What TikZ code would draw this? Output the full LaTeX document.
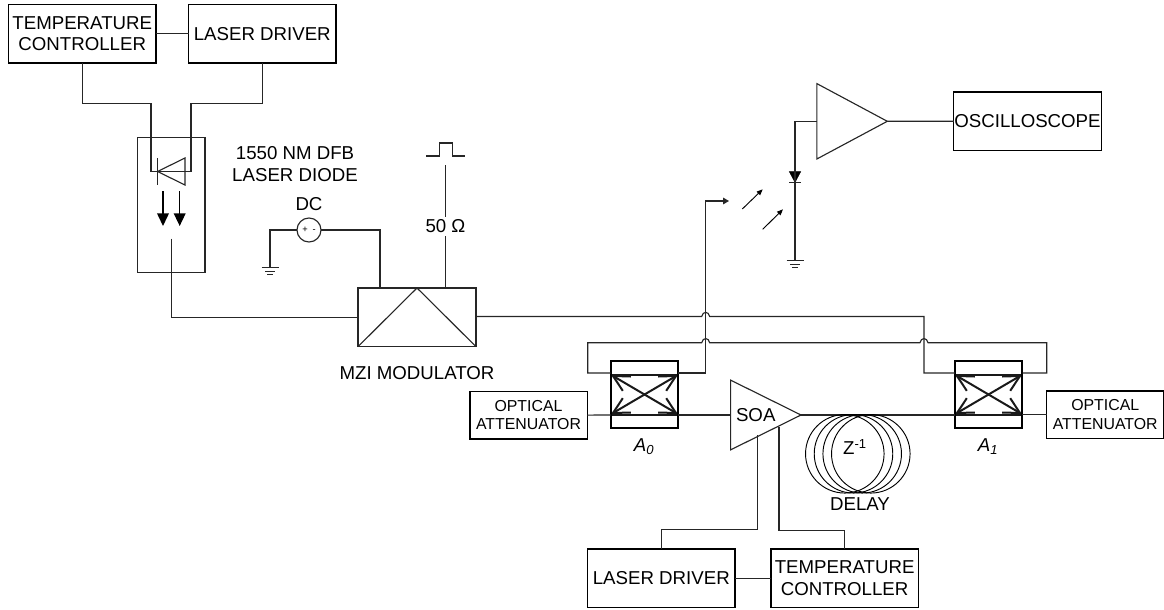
\documentclass[tikz,border=0pt]{standalone}
\usepackage{fontspec}
\setmainfont{Liberation Sans}
\usetikzlibrary{arrows.meta,positioning,shapes.geometric}

\begin{document}
\newcommand{\hop}[2]{-- ({#1-4},#2) .. controls ({#1-3},{#2-5.5}) and ({#1+3},{#2-5.5}) .. ({#1+4},#2)}
\begin{tikzpicture}
[x=0.75pt,y=-0.75pt,on grid,line join=miter,
wire/.style={line width=0.85pt,draw=black!85},
every edge/.style={draw,wire},
txt/.style={inner sep=0pt,outer sep=0pt,align=center,font=\fontsize{14}{16.3}\selectfont},
small txt/.style={txt,font=\fontsize{11.9}{13.8}\selectfont},
block/.style={txt,draw,line width=1pt,minimum width=110.6pt,minimum height=44pt},
attn/.style={small txt,draw,line width=1pt,minimum width=88pt,minimum height=35.5pt},
amp/.style={txt,draw,wire,isosceles triangle,isosceles triangle stretches,minimum height=52.8pt},
coupler/.style={draw,line width=1.1pt,inner sep=0pt,outer sep=0pt,minimum size=50.5pt,
path picture={
\begin{scope}[shift={(path picture bounding box.center)},line width=1.5pt,black!90]
\draw (-34,-20) -- (34,-20);
\draw (-34,20) -- (34,20);
\draw (-31.5,-18.5) -- (31.5,18.5);
\draw (-31.5,18.5) -- (31.5,-18.5);
\foreach \sx in {-1,1} \foreach \sy in {-1,1} {
\draw ({\sx*13.7},{\sy*18}) -- ({\sx*31.5},{\sy*18.5}) -- ({\sx*21.7},{\sy*3.7});
}
\end{scope}}},
gnd/.pic={
\draw [wire] (-8.5,0) -- (8.5,0);
\draw [wire] (-5,4) -- (5,4);
\draw [wire] (-2.8,7) -- (2.8,7);},
big arrow/.style={line width=1pt,-{Triangle[width=8.8pt,length=9.5pt]}},
ray/.style={line width=0.7pt,-{Triangle[width=3.6pt,length=4.5pt]}}]
\useasboundingbox (0,0) rectangle (1164,610);

\node [block] (tc1) at (82.25,33.75) {TEMPERATURE\\CONTROLLER};
\node [block] (ld1) [right=135pt of tc1] {LASER DRIVER} edge (tc1);
\node [draw,wire,minimum width=50.6pt,minimum height=101.2pt,inner sep=0pt,outer sep=0pt] (laser) at (171.25,205) {};
\coordinate (tcbend) at (151,103.5);
\coordinate (ldbend) at (191,103.5);
\coordinate (dioL) at (151,171.5);
\coordinate (dioR) at (191,171.5);
\draw [wire] (tc1.south) |- (tcbend) -- (dioL) -- (dioR) -- (ldbend) -| (ld1.south);
\draw [wire] (185,158) -- (185,185) -- (157.5,171.5) -- cycle;
\draw [wire] (157.5,158) -- (157.5,185);
\draw [big arrow] (163,191) -- (163,226);
\draw [big arrow] (179.7,191) -- (179.7,226);
\node [txt] (ldlabel) at (295,163.8) {1550 NM DFB\\LASER DIODE};

\node [draw,wire,minimum width=88.5pt,minimum height=44pt,inner sep=0pt,outer sep=0pt] (mzi) at (417,317.3) {};
\draw [wire] (mzi.south west) -- (mzi.north) -- (mzi.south east);
\node [txt] (mzilabel) [below=42pt of mzi] {MZI MODULATOR};
\coordinate (fibre) at (171.5,238.5);
\draw [wire] (fibre) |- (mzi.west);

\node [txt] (dclabel) at (309,204) {DC};
\node [circle,draw,wire,minimum size=18pt,inner sep=0pt,outer sep=0pt,font=\fontsize{7}{8}\selectfont] (dcsrc) at (309,230) {+\hspace{3.5pt}-};
\coordinate (gnd1) at (270,267.5);
\coordinate (mzidc) at (380,288);
\draw [wire] (dcsrc.west) -| (gnd1);
\draw [wire] (dcsrc.east) -| (mzidc);
\pic at (gnd1) {gnd};

\node [txt,inner ysep=2.5pt] (ohm) at (445.5,226.5) {50 Ω};
\coordinate (mziohm) at (445.5,288);
\coordinate (pulse) at (445.5,165);
\draw [wire] (mziohm) -- (ohm.south);
\draw [wire] (ohm.north) -- (pulse);
\draw [wire] (426,156) -- (439.5,156) -- (439.5,143) -- (452.5,143) -- (452.5,156) -- (465,156);

\node [coupler] (a0) at (644.5,394.5) {};
\node [coupler] (a1) [right=258pt of a0] {};
\node [txt,font=\fontsize{14}{16}\itshape] (a0label) at (644,446.5) {A\textsubscript{0}};
\node [txt,font=\fontsize{14}{16}\itshape] (a1label) at (988,446.5) {A\textsubscript{1}};
\node [attn] (att0) at (528.5,415.3) {OPTICAL\\ATTENUATOR} edge (a0.west |- 0,415);
\node [attn] (att1) at (1105.2,414.5) {OPTICAL\\ATTENUATOR} edge (a1.east |- 0,414.5);

\node [amp,minimum width=52.3pt,anchor=apex] (soa) at (801,415) {SOA};
\draw [wire] (a0.east |- soa.apex) -- (soa.apex -| 731,0);
\draw [wire] (soa.apex) -- (a1.west |- soa.apex);
\foreach \i/\cx in {1/844.8,2/853.5,3/862.2,4/870.8}
\node [circle,draw,line width=0.7pt,minimum size=58.9pt,inner sep=0pt] (loop\i) at (\cx,453.8) {};
\node [txt] (zinv) at (855,447) {Z\textsuperscript{-1}};
\node [txt] (delay) at (860,504.5) {DELAY};

\node [block] (ld2) at (661.3,578.3) {LASER DRIVER};
\node [block] (tc2) [right=137.5pt of ld2] {TEMPERATURE\\CONTROLLER} edge (ld2);
\coordinate (soaL) at (757.3,435);
\coordinate (soaR) at (779,426.5);
\coordinate (bendL) at (757.3,529.3);
\coordinate (bendR) at (779,530.3);
\draw [wire] (soaL) -- (bendL) -| (ld2.north);
\draw [wire] (soaR) -- (bendR) -| (tc2.north);

\coordinate (a0top) at (610.7,373);
\coordinate (a0out) at (678.3,373);
\coordinate (a1top) at (955,373);
\coordinate (a1out) at (1022.7,373);
\coordinate (tapend) at (729,201);
\draw [wire,-{Triangle[width=5pt,length=4.5pt]}] (a0out) -- (705.7,373) |- (tapend);
\draw [wire] (mzi.east) -- (476,316.5) \hop{705.7}{316.5} -- (924,316.5) -- (924,373) -- (a1top);
\draw [wire] (a0top) -- (587.7,373) -- (587.7,342.7) \hop{705.7}{342.7} \hop{924}{342.7} -- (1046.7,342.7) -- (1046.7,373) -- (a1out);

\node [amp,minimum width=56.5pt,anchor=apex] (amp1) at (887.3,121.3) {};
\node [block] (osc) at (1027.5,121.2) {OSCILLOSCOPE} edge (amp1.apex);
\node [isosceles triangle,isosceles triangle stretches,shape border rotate=270,fill=black,draw,inner sep=0pt,outer sep=0pt,minimum height=8pt,minimum width=8.5pt,anchor=apex] (pd) at (795,182.3) {};
\coordinate (gnd2) at (795,260.5);
\coordinate (ampin) at (817,121.3);
\draw [wire] (ampin) -| (pd.apex);
\draw [wire] (789,182.3) -- (801,182.3);
\draw [wire] (pd.apex) -- (gnd2);
\pic at (gnd2) {gnd};
\coordinate (ray1a) at (742.3,209);
\coordinate (ray1b) at (762.7,189.3);
\coordinate (ray2a) at (762.7,229.3);
\coordinate (ray2b) at (783,209.3);
\draw [ray] (ray1a) -- (ray1b);
\draw [ray] (ray2a) -- (ray2b);
\end{tikzpicture}
\end{document}
